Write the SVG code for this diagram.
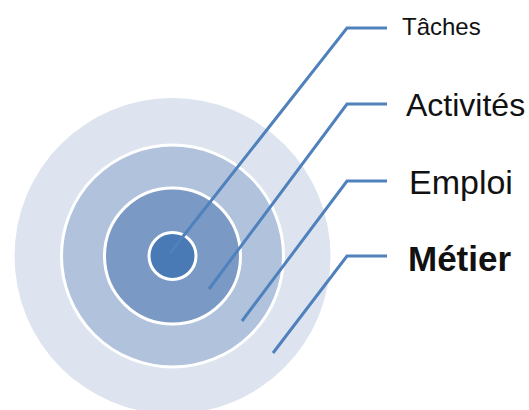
<svg xmlns="http://www.w3.org/2000/svg" width="529" height="410" viewBox="0 0 529 410">
  <style>
    .ring { stroke: #ffffff; stroke-width: 3; }
    .lead { fill: none; stroke: #4f81bd; stroke-width: 3; stroke-linejoin: miter; }
    .lbl { font-family: "Liberation Sans", Arial, sans-serif; fill: #111111; }
  </style>
  <rect width="529" height="410" fill="#ffffff"/>
  <g id="metier-circle">
    <circle cx="172.5" cy="256" r="158" fill="#dde4ef"/>
  </g>
  <g id="emploi-circle">
    <circle class="ring" cx="172.5" cy="256" r="111" fill="#b0c2dc"/>
  </g>
  <g id="activites-circle">
    <circle class="ring" cx="172.5" cy="256" r="68" fill="#7b99c5"/>
  </g>
  <g id="taches-circle">
    <circle class="ring" cx="172.5" cy="256" r="23.5" fill="#4a7ab5"/>
  </g>
  <g id="connectors">
    <polyline class="lead" points="170,253 347,28 387,28"/>
    <polyline class="lead" points="209,289 347,104 387,104"/>
    <polyline class="lead" points="242,321 347,181 387,181"/>
    <polyline class="lead" points="273,353 347,256 387,256"/>
  </g>
  <g id="label-taches">
    <text class="lbl" x="402" y="35" font-size="24">Tâches</text>
  </g>
  <g id="label-activites">
    <text class="lbl" x="406" y="116" font-size="32">Activités</text>
  </g>
  <g id="label-emploi">
    <text class="lbl" x="409" y="194" font-size="34">Emploi</text>
  </g>
  <g id="label-metier">
    <text class="lbl" x="408" y="271" font-size="35" font-weight="bold">Métier</text>
  </g>
</svg>
